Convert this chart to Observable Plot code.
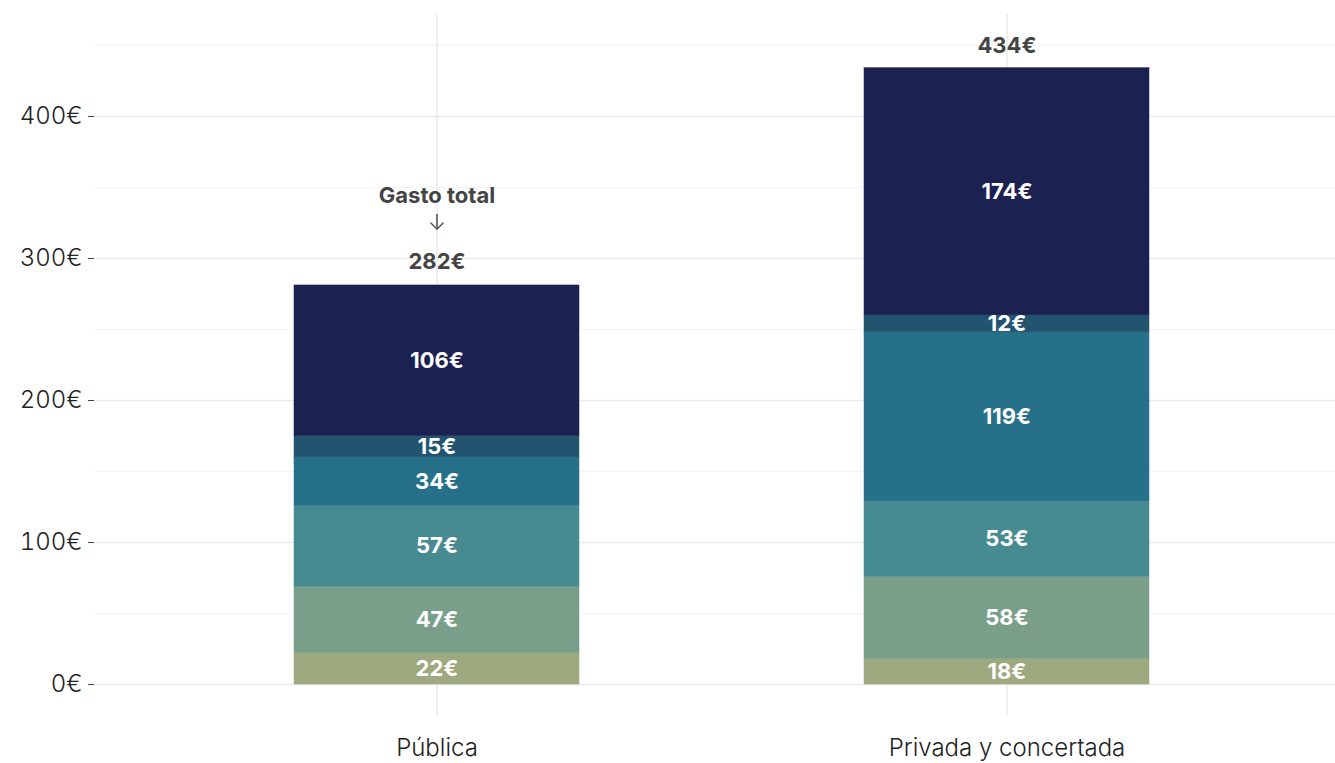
<!DOCTYPE html>
<html><head><meta charset="utf-8">
<script src="https://cdn.jsdelivr.net/npm/d3@7"></script>
<script src="https://cdn.jsdelivr.net/npm/@observablehq/plot@0.6"></script>
<style>
html,body{margin:0;padding:0;background:#fff;}
#chart{width:1335px;height:763px;}
</style></head>
<body><div id="chart"></div>
<script>
const centros = ["Pública", "Privada y concertada"];
const partidas = ["P1", "P2", "P3", "P4", "P5", "P6"]; // de abajo arriba
const colores = ["#9fa97f", "#799f8b", "#468b92", "#267189", "#22536f", "#1b2150"];
const valoresPublica = [22, 47, 57, 34, 15, 106];
const valoresPrivada = [18, 58, 53, 119, 12, 174];
const totales = [282, 434];
const yTicks = [0, 100, 200, 300, 400];
const yMinor = [50, 150, 250, 350, 450];

const data = [];
partidas.forEach((p, i) => data.push({centro: centros[0], partida: p, valor: valoresPublica[i]}));
partidas.forEach((p, i) => data.push({centro: centros[1], partida: p, valor: valoresPrivada[i]}));
const tot = centros.map((c, i) => ({centro: c, total: totales[i]}));

const font = "Inter, Lato, sans-serif";
const chart = Plot.plot({
  width: 1335, height: 763,
  marginLeft: 94, marginRight: 0, marginTop: 14, marginBottom: 47,
  style: {fontFamily: font, background: "#fff"},
  x: {domain: centros, range: [94, 1348], paddingInner: 0.5, paddingOuter: 0.35, label: null},
  y: {domain: [-22.5, 471.8], label: null},
  color: {domain: partidas, range: colores},
  marks: [
    Plot.ruleY(yMinor, {stroke: "#f4f4f4", strokeWidth: 1.2}),
    Plot.ruleY(yTicks, {stroke: "#ebebeb", strokeWidth: 1.5}),
    Plot.ruleX(centros, {stroke: "#ebebeb", strokeWidth: 1.5}),
    Plot.barY(data, {x: "centro", y: "valor", fill: "partida", stroke: "partida", strokeWidth: 0.5, z: "partida", inset: 0}),
    Plot.text(data, Plot.stackY({x: "centro", y: "valor", z: "partida", text: d => d.valor + "€",
      fill: "white", fontSize: 22, fontWeight: 700, letterSpacing: 0.4})),
    Plot.text(tot, {x: "centro", y: "total", dy: -22, text: d => d.total + "€", fill: "#444", fontSize: 22, fontWeight: 700, letterSpacing: 0.4}),
    Plot.text(tot.slice(0, 1), {x: "centro", y: "total", dy: -88, text: () => "Gasto total", fill: "#444", fontSize: 22, fontWeight: 700, letterSpacing: 0.6}),
    Plot.text(tot.slice(0, 1), {x: "centro", y: "total", dy: -61, text: () => "↓", fill: "#444", fontSize: 22, fontWeight: 300}),
    Plot.axisY({ticks: yTicks, tickFormat: d => d + "€", tickSize: 6, tickPadding: 6, fontSize: 24, fontWeight: 300, letterSpacing: 0.5, stroke: "#444", color: "#222"}),
    Plot.axisX({tickSize: 0, tickPadding: 22, fontSize: 24, fontWeight: 300, letterSpacing: 0.4, color: "#222"})
  ]
});
document.getElementById("chart").appendChild(chart);
</script>
</body></html>
